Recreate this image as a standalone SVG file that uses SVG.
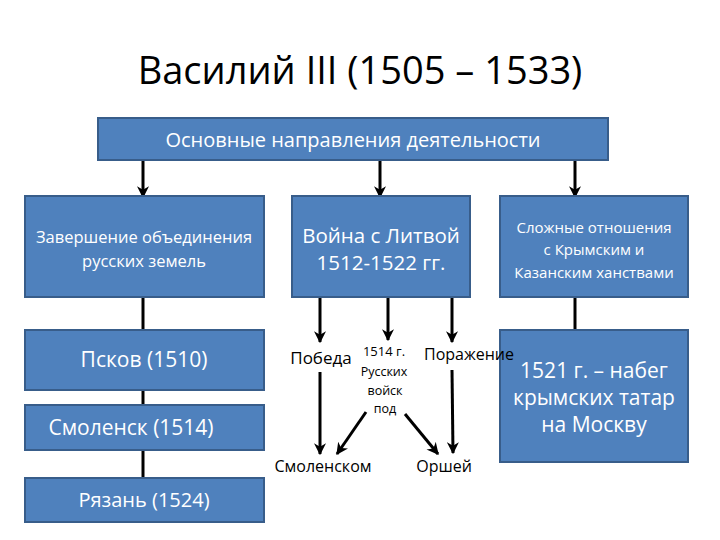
<svg xmlns="http://www.w3.org/2000/svg" width="720" height="540" viewBox="0 0 720 540">
<defs>
<marker id="ah" viewBox="0 0 10 10" refX="9" refY="5" markerWidth="4" markerHeight="4" orient="auto" markerUnits="strokeWidth"><path d="M0,0 L10,5 L0,10 L3,5 z" fill="#000"/></marker>
<style>
.box{fill:#4f81bd;stroke:#385d8a;stroke-width:2}
.w{fill:#fff;font-family:"Open Sans","Liberation Sans",sans-serif;text-anchor:middle}
.k{fill:#000;font-family:"Open Sans","Liberation Sans",sans-serif;text-anchor:middle}
.c line{stroke:#000;stroke-width:3}
.a{marker-end:url(#ah)}
</style>
</defs>
<rect width="720" height="540" fill="#fff"/>
<text x="360" y="84" class="k" font-size="38">Василий III (1505 – 1533)</text>
<g class="c">
<line class="a" x1="143" y1="160" x2="143" y2="197"/>
<line class="a" x1="380" y1="160" x2="380" y2="197"/>
<line class="a" x1="575" y1="160" x2="575" y2="197"/>
<line x1="143" y1="297" x2="143" y2="331"/>
<line x1="143" y1="390" x2="143" y2="405"/>
<line x1="143" y1="450" x2="143" y2="479"/>
<line x1="575" y1="297" x2="575" y2="331"/>
<line class="a" x1="320" y1="297" x2="320" y2="342"/>
<line class="a" x1="388" y1="297" x2="388" y2="340"/>
<line class="a" x1="452" y1="297" x2="452" y2="342"/>
<line class="a" x1="320" y1="372" x2="320" y2="454"/>
<line class="a" x1="366" y1="412" x2="337" y2="454"/>
<line class="a" x1="405" y1="414" x2="438" y2="454"/>
<line class="a" x1="452" y1="370" x2="453" y2="453"/>
</g>
<g id="top"><rect class="box" x="98" y="118" width="510" height="42"/><text class="w" x="353" y="147" font-size="20">Основные направления деятельности</text></g>
<g id="n1"><rect class="box" x="25" y="196" width="239" height="101"/><text class="w" x="144" y="243" font-size="16.5">Завершение объединения</text><text class="w" x="144" y="267" font-size="16.5">русских земель</text></g>
<g id="n2"><rect class="box" x="292" y="196" width="178" height="101"/><text class="w" x="381" y="243" font-size="20.5">Война с Литвой</text><text class="w" x="381" y="270" font-size="20.5">1512-1522 гг.</text></g>
<g id="n3"><rect class="box" x="500" y="196" width="188" height="101"/><text class="w" x="594" y="233" font-size="15">Сложные отношения</text><text class="w" x="594" y="255" font-size="15">с Крымским и</text><text class="w" x="594" y="278" font-size="15">Казанским ханствами</text></g>
<g id="pskov"><rect class="box" x="25" y="330" width="239" height="60"/><text class="w" x="144" y="367" font-size="21">Псков (1510)</text></g>
<g id="smol"><rect class="box" x="25" y="405" width="239" height="45"/><text class="w" x="131" y="435" font-size="21">Смоленск (1514)</text></g>
<g id="ryaz"><rect class="box" x="25" y="478" width="239" height="44"/><text class="w" x="144" y="507" font-size="20">Рязань (1524)</text></g>
<g id="raid"><rect class="box" x="500" y="330" width="188" height="132"/><text class="w" x="594" y="378" font-size="21">1521 г. – набег</text><text class="w" x="594" y="405" font-size="21">крымских татар</text><text class="w" x="594" y="432" font-size="21">на Москву</text></g>
<g id="labels">
<text class="k" x="321" y="364" font-size="17">Победа</text>
<text class="k" x="384" y="356" font-size="13">1514 г.</text>
<text class="k" x="469" y="360" font-size="16">Поражение</text>
<text class="k" x="384" y="376" font-size="12.5">Русских</text>
<text class="k" x="385" y="395" font-size="12.5">войск</text>
<text class="k" x="385" y="413" font-size="12.5">под</text>
<text class="k" x="323" y="472" font-size="16">Смоленском</text>
<text class="k" x="444" y="472" font-size="16">Оршей</text>
</g>
</svg>
